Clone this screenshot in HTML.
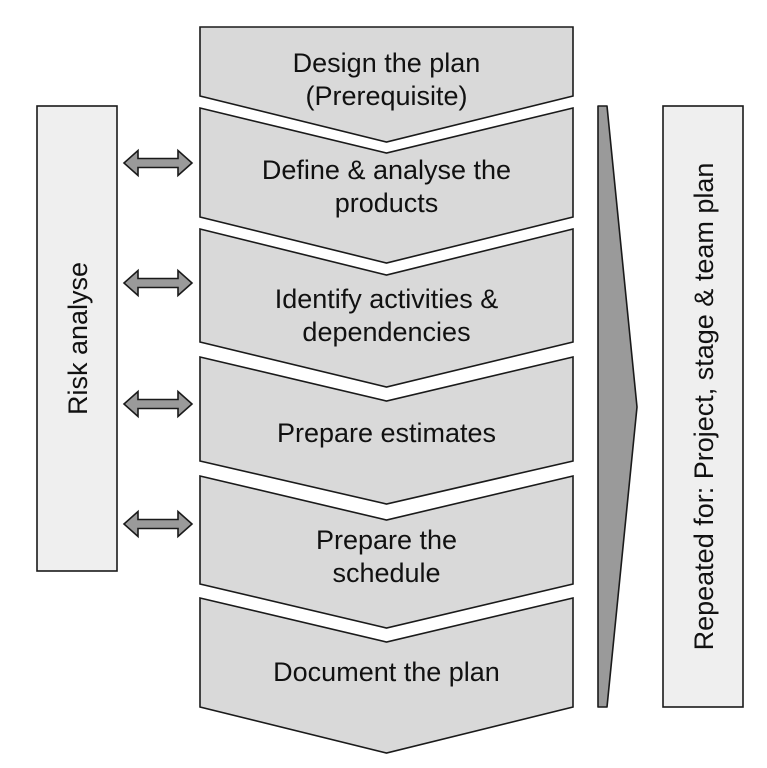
<!DOCTYPE html>
<html>
<head>
<meta charset="utf-8">
<style>
html,body{margin:0;padding:0;background:#fff;}
svg{display:block;}
text{font-family:"Liberation Sans",Arial,sans-serif;font-size:27px;fill:#111;}
</style>
</head>
<body>
<svg width="767" height="768" viewBox="0 0 767 768" xmlns="http://www.w3.org/2000/svg">
  <g fill="#d9d9d9" stroke="#1a1a1a" stroke-width="1.6" stroke-linejoin="miter">
    <polygon points="200,27 573,27 573,96 386.5,142 200,96"/>
    <polygon points="200,108 386.5,153 573,108 573,217 386.5,263 200,217"/>
    <polygon points="200,229 386.5,275 573,229 573,342 386.5,387 200,342"/>
    <polygon points="200,357 386.5,401 573,357 573,461 386.5,504 200,461"/>
    <polygon points="200,476 386.5,520 573,476 573,584 386.5,628 200,584"/>
    <polygon points="200,598 386.5,642 573,598 573,707 386.5,753 200,707"/>
  </g>
  <g text-anchor="middle">
    <text x="386.5" y="72">Design the plan</text>
    <text x="386.5" y="105">(Prerequisite)</text>
    <text x="386.5" y="179">Define &amp; analyse the</text>
    <text x="386.5" y="212">products</text>
    <text x="386.5" y="308">Identify activities &amp;</text>
    <text x="386.5" y="341">dependencies</text>
    <text x="386.5" y="442">Prepare estimates</text>
    <text x="386.5" y="549">Prepare the</text>
    <text x="386.5" y="582">schedule</text>
    <text x="386.5" y="681">Document the plan</text>
  </g>

  <!-- left box -->
  <rect x="37" y="106" width="80" height="465" fill="#efefef" stroke="#1a1a1a" stroke-width="1.6"/>
  <text transform="translate(87,338.5) rotate(-90)" text-anchor="middle">Risk analyse</text>

  <!-- right box -->
  <rect x="663" y="106" width="80" height="601" fill="#efefef" stroke="#1a1a1a" stroke-width="1.6"/>
  <text transform="translate(713,406.5) rotate(-90)" text-anchor="middle">Repeated for: Project, stage &amp; team plan</text>

  <!-- right tall arrow -->
  <polygon points="598,106 607,106 637,407 607,707 598,707" fill="#9a9a9a" stroke="#1a1a1a" stroke-width="1.6" stroke-linejoin="round"/>

  <!-- double arrows -->
  <g fill="#9a9a9a" stroke="#1a1a1a" stroke-width="1.6" stroke-linejoin="miter">
    <polygon points="124,163 138,150.5 138,158.5 178,158.5 178,150.5 192,163 178,175.5 178,167.5 138,167.5 138,175.5"/>
    <polygon points="124,283 138,270.5 138,278.5 178,278.5 178,270.5 192,283 178,295.5 178,287.5 138,287.5 138,295.5"/>
    <polygon points="124,404 138,391.5 138,399.5 178,399.5 178,391.5 192,404 178,416.5 178,408.5 138,408.5 138,416.5"/>
    <polygon points="124,524 138,511.5 138,519.5 178,519.5 178,511.5 192,524 178,536.5 178,528.5 138,528.5 138,536.5"/>
  </g>
</svg>
</body>
</html>
